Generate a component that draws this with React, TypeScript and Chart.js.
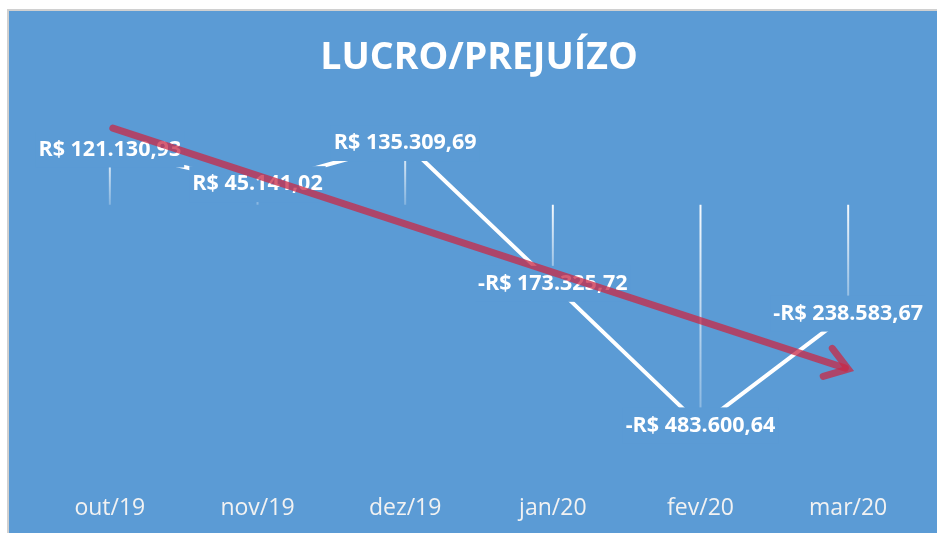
import React, { useEffect, useRef } from "react";
import { Chart, registerables } from "chart.js";

Chart.register(...registerables);

const categories = ["out/19", "nov/19", "dez/19", "jan/20", "fev/20", "mar/20"];
const lucro = [121130.93, 45141.02, 135309.69, -173325.72, -483600.64, -238583.67];
const valueLabels = [
  "R$ 121.130,93",
  "R$ 45.141,02",
  "R$ 135.309,69",
  "-R$ 173.325,72",
  "-R$ 483.600,64",
  "-R$ 238.583,67",
];
// hand-drawn trend arrow: start at first category, end at last category
const trendStart = 168000;
const trendEnd = -360000;
const yMin = -600000;
const yMax = 200000;

const BG = "#5B9BD5";
const FONT = "'Open Sans', 'DejaVu Sans', sans-serif";

const decorPlugin = {
  id: "decor",
  beforeDatasetsDraw(chart: any) {
    const { ctx, scales } = chart;
    const x = scales.x;
    const y = scales.y;
    const y0 = y.getPixelForValue(0);
    ctx.save();
    lucro.forEach((v, i) => {
      const px = x.getPixelForValue(i);
      const py = y.getPixelForValue(v);
      const top = Math.min(py, y0);
      const bot = Math.max(py, y0);
      const g = ctx.createLinearGradient(0, top, 0, bot);
      g.addColorStop(0, "rgba(255,255,255,0.95)");
      g.addColorStop(1, "rgba(255,255,255,0.25)");
      ctx.strokeStyle = g;
      ctx.lineWidth = 2;
      ctx.beginPath();
      ctx.moveTo(px, top);
      ctx.lineTo(px, bot);
      ctx.stroke();
    });
    ctx.restore();
  },
  afterDatasetsDraw(chart: any) {
    const { ctx, scales } = chart;
    const x = scales.x;
    const y = scales.y;
    ctx.save();
    ctx.font = `bold 21.5px ${FONT}`;
    ctx.textAlign = "center";
    ctx.textBaseline = "middle";
    lucro.forEach((v, i) => {
      const px = x.getPixelForValue(i);
      const py = y.getPixelForValue(v);
      const w = ctx.measureText(valueLabels[i]).width;
      ctx.fillStyle = BG;
      ctx.fillRect(px - w / 2 - 3, py - 18, w + 6, 36);
      ctx.fillStyle = "#FFFFFF";
      ctx.fillText(valueLabels[i], px, py);
    });
    // trend arrow
    const x1 = x.getPixelForValue(0);
    const y1 = y.getPixelForValue(trendStart);
    const x2 = x.getPixelForValue(categories.length - 1);
    const y2 = y.getPixelForValue(trendEnd);
    const ang = Math.atan2(y2 - y1, x2 - x1);
    ctx.strokeStyle = "rgba(200,40,70,0.75)";
    ctx.lineWidth = 7;
    ctx.lineCap = "round";
    ctx.lineJoin = "miter";
    ctx.beginPath();
    ctx.moveTo(x1 + 3, y1);
    ctx.lineTo(x2 - 3 * Math.cos(ang), y2 - 3 * Math.sin(ang));
    ctx.stroke();
    const L = 26;
    const spread = 0.6;
    ctx.beginPath();
    ctx.moveTo(x2 - L * Math.cos(ang - spread), y2 - L * Math.sin(ang - spread));
    ctx.lineTo(x2, y2);
    ctx.lineTo(x2 - L * Math.cos(ang + spread), y2 - L * Math.sin(ang + spread));
    ctx.stroke();
    ctx.restore();
  },
};

export default function App() {
  const ref = useRef<HTMLCanvasElement | null>(null);
  useEffect(() => {
    if (!ref.current) return;
    const chart = new Chart(ref.current, {
      type: "line",
      data: {
        labels: categories,
        datasets: [
          {
            label: "Lucro/Prejuízo",
            data: lucro,
            borderColor: "#FFFFFF",
            borderWidth: 4,
            pointRadius: 0,
            tension: 0,
            fill: false,
          },
        ],
      },
      options: {
        responsive: false,
        animation: false,
        layout: { padding: { left: 27, right: 15, top: 0, bottom: 0 } },
        plugins: {
          legend: { display: false },
          tooltip: { enabled: false },
          title: {
            display: true,
            text: "LUCRO/PREJUÍZO",
            color: "#FFFFFF",
            font: { family: FONT, size: 37.5, weight: "bold" },
            padding: { top: 25, bottom: 32.5 },
          },
        },
        scales: {
          x: {
            offset: true,
            grid: { display: false, drawTicks: false },
            border: { display: false },
            ticks: {
              color: "#F2F2F2",
              font: { family: FONT, size: 23 },
              padding: 16,
              maxRotation: 0,
            },
            afterFit(scale: any) {
              scale.height = 54.5;
            },
          },
          y: {
            display: false,
            min: yMin,
            max: yMax,
          },
        },
      },
      plugins: [decorPlugin],
    });
    return () => chart.destroy();
  }, []);

  return (
    <div style={{ position: "fixed", left: 0, top: 0, width: 937, height: 533, background: "#FFFFFF" }}>
      <div
        style={{
          position: "absolute",
          left: 7,
          top: 9,
          width: 930,
          height: 524,
          boxSizing: "border-box",
          borderLeft: "2px solid #D0D0D0",
          borderTop: "2px solid #D0D0D0",
          background: BG,
        }}
      >
        <canvas ref={ref} width={928} height={522} style={{ display: "block", width: 928, height: 522 }} />
      </div>
    </div>
  );
}
